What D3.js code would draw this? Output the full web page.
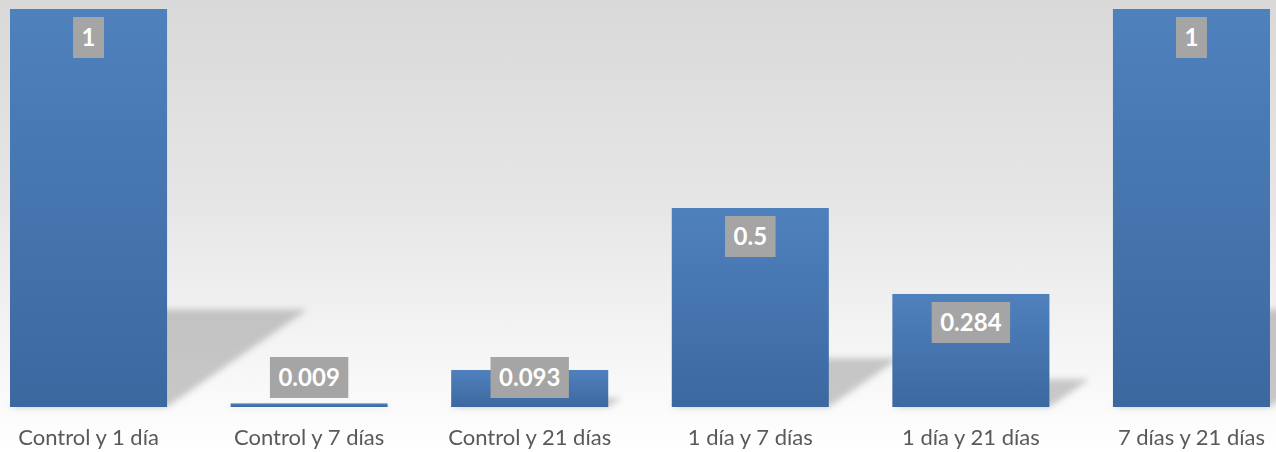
<!DOCTYPE html>
<html>
<head>
<meta charset="utf-8">
<script src="https://cdn.jsdelivr.net/npm/d3@7"></script>
<style>
  body { margin: 0; overflow: hidden; }
  text { font-family: Lato, "Open Sans", sans-serif; }
</style>
</head>
<body>
<script>
"use strict";

// data
var categories = ["Control y 1 día", "Control y 7 días", "Control y 21 días",
                  "1 día y 7 días", "1 día y 21 días", "7 días y 21 días"];
var values = [1, 0.009, 0.093, 0.5, 0.284, 1];
var valueLabels = ["1", "0.009", "0.093", "0.5", "0.284", "1"];

var width = 1276, height = 452;
var baseline = 407;

var svg = d3.select("body").append("svg")
    .attr("width", width)
    .attr("height", height);

var defs = svg.append("defs");

// background gradient
var bg = defs.append("linearGradient")
    .attr("id", "bg").attr("x1", 0).attr("y1", 0).attr("x2", 0).attr("y2", 1);
bg.append("stop").attr("offset", "0%").attr("stop-color", "#d9d9d9");
bg.append("stop").attr("offset", "45%").attr("stop-color", "#e6e6e6");
bg.append("stop").attr("offset", "80%").attr("stop-color", "#f6f6f6");
bg.append("stop").attr("offset", "100%").attr("stop-color", "#ffffff");

// bar gradient
var barGrad = defs.append("linearGradient")
    .attr("id", "barGrad").attr("x1", 0).attr("y1", 0).attr("x2", 0).attr("y2", 1);
barGrad.append("stop").attr("offset", "0%").attr("stop-color", "#4f81bd");
barGrad.append("stop").attr("offset", "100%").attr("stop-color", "#3c68a0");

var blur = defs.append("filter").attr("id", "blur")
    .attr("x", "-20%").attr("y", "-20%").attr("width", "140%").attr("height", "140%");
blur.append("feGaussianBlur").attr("stdDeviation", 3);

svg.append("rect")
    .attr("width", width)
    .attr("height", height)
    .attr("fill", "url(#bg)");

// scales
var x = d3.scaleBand()
    .domain(categories)
    .range([10, 1270])
    .paddingInner(0.288)
    .paddingOuter(0);

var y = d3.scaleLinear()
    .domain([0, 1])
    .range([baseline, 9]);

var data = categories.map(function(c, i) {
  return {cat: c, value: values[i], label: valueLabels[i]};
});

// perspective shadows
var shadows = svg.append("g").attr("filter", "url(#blur)");
shadows.selectAll("path")
  .data(data)
  .enter().append("path")
    .attr("fill", "#8a8a8a")
    .attr("opacity", 0.45)
    .attr("d", function(d) {
      var x0 = x(d.cat), x1 = x0 + x.bandwidth();
      var h = baseline - y(d.value);
      var sh = h * 0.245, dx = sh * 1.44;
      return "M" + x0 + "," + baseline + "L" + x1 + "," + baseline +
             "L" + (x1 + dx) + "," + (baseline - sh) +
             "L" + (x0 + dx) + "," + (baseline - sh) + "Z";
    });

// bars
svg.append("g").selectAll("rect")
  .data(data)
  .enter().append("rect")
    .attr("x", function(d) { return x(d.cat); })
    .attr("y", function(d) { return y(d.value); })
    .attr("width", x.bandwidth())
    .attr("height", function(d) { return baseline - y(d.value); })
    .attr("fill", "url(#barGrad)");

// value labels
var labels = svg.append("g").selectAll("g")
  .data(data)
  .enter().append("g")
    .attr("transform", function(d) {
      var top = Math.min(y(d.value) + 8, baseline - 50);
      return "translate(" + (x(d.cat) + x.bandwidth() / 2) + "," + top + ")";
    });

labels.append("rect")
    .attr("fill", "#a5a5a5")
    .attr("height", 41);

var labelText = labels.append("text")
    .attr("text-anchor", "middle")
    .attr("y", 20.5)
    .attr("dy", "0.35em")
    .attr("fill", "#ffffff")
    .attr("font-weight", "bold")
    .attr("font-size", "24px")
    .text(function(d) { return d.label; });

labelText.each(function(d) {
  var w = this.getComputedTextLength() + 17;
  d3.select(this.parentNode).select("rect")
    .attr("x", -w / 2)
    .attr("width", w);
});

// category axis
var xAxis = d3.axisBottom(x).tickSize(0).tickPadding(0);
var gX = svg.append("g")
    .attr("transform", "translate(0," + baseline + ")")
    .call(xAxis);
gX.select(".domain").remove();
gX.selectAll("text")
    .attr("y", 30)
    .attr("dy", "0.35em")
    .attr("fill", "#595959")
    .attr("font-size", "22px")
    .style("font-family", "Lato, 'Open Sans', sans-serif");
</script>
</body>
</html>
